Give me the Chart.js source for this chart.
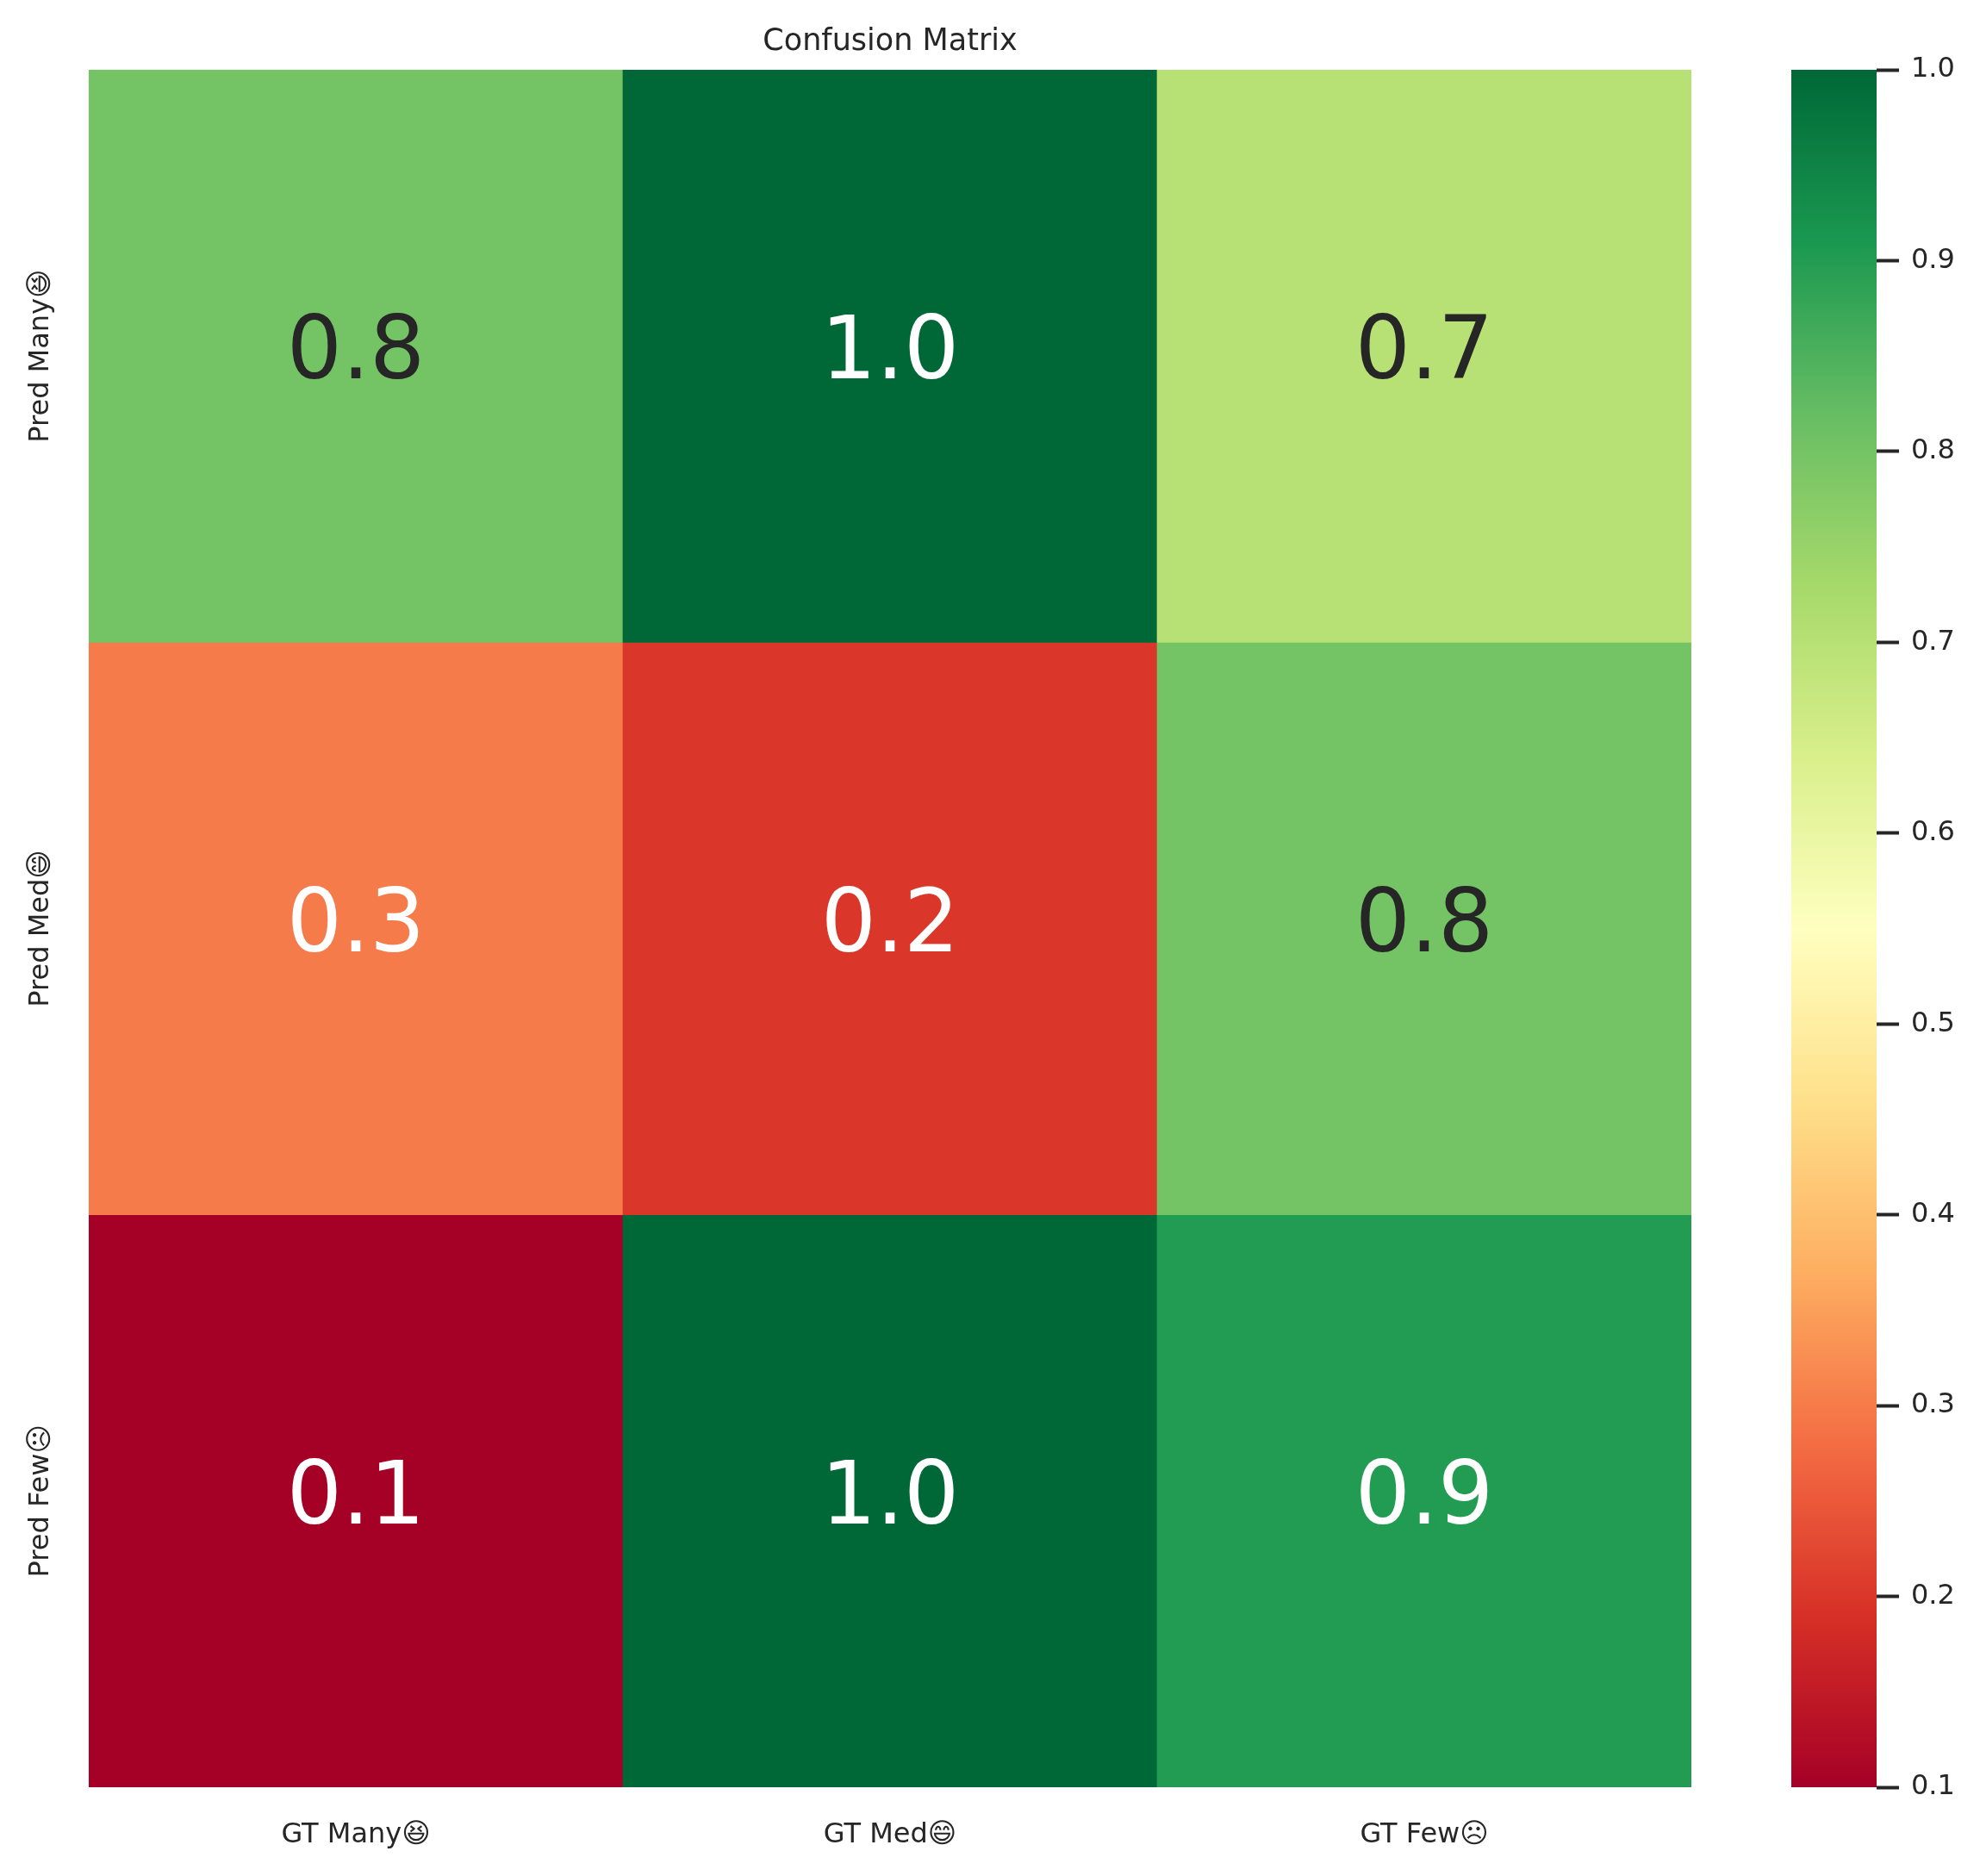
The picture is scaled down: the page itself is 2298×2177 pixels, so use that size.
<!DOCTYPE html>
<html>
<head>
<meta charset="utf-8">
<title>Confusion Matrix</title>
<script src="https://cdn.jsdelivr.net/npm/chart.js@4.4.1/dist/chart.umd.min.js"></script>
<style>
  html, body { margin: 0; padding: 0; background: #fff; }
  #wrap { position: relative; width: 2298px; height: 2177px; }
  #heat { position: absolute; left: 0; top: 0; }
  #cbar { position: absolute; left: 2070px; top: 0; }
</style>
</head>
<body>
<div id="wrap">
  <canvas id="heat" width="2000" height="2177"></canvas>
  <canvas id="cbar" width="228" height="2177"></canvas>
</div>
<script>
/* ----------------------------------------------------------
   Data
   ---------------------------------------------------------- */
const COL_LABELS = ['GT Many😆', 'GT Med😄', 'GT Few☹'];
const ROW_LABELS = ['Pred Many😆', 'Pred Med😄', 'Pred Few☹'];

const ROW_PRED_MANY = [0.8, 1.0, 0.7];
const ROW_PRED_MED  = [0.3, 0.2, 0.8];
const ROW_PRED_FEW  = [0.1, 1.0, 0.9];
const MATRIX = [ROW_PRED_MANY, ROW_PRED_MED, ROW_PRED_FEW];

const VMIN = 0.1;
const VMAX = 1.0;
const CB_TICKS = [0.1, 0.2, 0.3, 0.4, 0.5, 0.6, 0.7, 0.8, 0.9, 1.0];

/* ----------------------------------------------------------
   Colormap (RdYlGn) + text colour
   ---------------------------------------------------------- */
const RDYLGN = ['#a50026', '#d73027', '#f46d43', '#fdae61', '#fee08b', '#ffffbf',
                '#d9ef8b', '#a6d96a', '#66bd63', '#1a9850', '#006837'];

function hexToRgb(h) {
  return [parseInt(h.slice(1, 3), 16), parseInt(h.slice(3, 5), 16), parseInt(h.slice(5, 7), 16)];
}

function cmapRgb(v) {
  let t = (v - VMIN) / (VMAX - VMIN);
  t = Math.max(0, Math.min(1, t));
  const pos = t * (RDYLGN.length - 1);
  const i = Math.min(Math.floor(pos), RDYLGN.length - 2);
  const f = pos - i;
  const a = hexToRgb(RDYLGN[i]), b = hexToRgb(RDYLGN[i + 1]);
  return a.map((c, k) => Math.round(c + (b[k] - c) * f));
}

function cmap(v) {
  const [r, g, b] = cmapRgb(v);
  return `rgb(${r},${g},${b})`;
}

// seaborn picks dark text on light cells
function textColor(v) {
  const lin = cmapRgb(v).map(c => {
    c /= 255;
    return c <= 0.03928 ? c / 12.92 : Math.pow((c + 0.055) / 1.055, 2.4);
  });
  const lum = 0.2126 * lin[0] + 0.7152 * lin[1] + 0.0722 * lin[2];
  return lum > 0.408 ? '#262626' : '#ffffff';
}

const FONT = "'DejaVu Sans', 'Noto Sans', sans-serif";
const INK = '#262626';

/* ----------------------------------------------------------
   Heatmap
   ---------------------------------------------------------- */
const annotations = {
  id: 'annotations',
  afterDatasetsDraw(chart) {
    const { ctx, scales: { x, y } } = chart;
    ctx.save();
    ctx.textAlign = 'center';
    ctx.textBaseline = 'middle';
    ctx.font = `101px ${FONT}`;
    MATRIX.forEach((row, r) => {
      row.forEach((v, c) => {
        ctx.fillStyle = textColor(v);
        ctx.fillText(v.toFixed(1), x.getPixelForValue(c), y.getPixelForValue(r + 0.5));
      });
    });
    // row labels, rotated
    ctx.font = `32px ${FONT}`;
    ctx.fillStyle = INK;
    ctx.textBaseline = 'alphabetic';
    ROW_LABELS.forEach((lbl, r) => {
      ctx.save();
      ctx.translate(56, y.getPixelForValue(r + 0.5));
      ctx.rotate(-Math.PI / 2);
      ctx.fillText(lbl, 0, 0);
      ctx.restore();
    });
    ctx.restore();
  },
};

new Chart(document.getElementById('heat'), {
  type: 'bar',
  data: {
    labels: COL_LABELS,
    datasets: MATRIX.map((row, r) => ({
      label: ROW_LABELS[r],
      data: row.map(() => [r, r + 1]),
      backgroundColor: row.map(cmap),
      borderWidth: 0,
      grouped: false,
      barPercentage: 1,
      categoryPercentage: 1,
    })),
  },
  options: {
    responsive: false,
    devicePixelRatio: 1,
    animation: false,
    layout: { padding: { left: 0, right: 37, top: 0, bottom: 0 } },
    plugins: {
      legend: { display: false },
      tooltip: { enabled: false },
      title: {
        display: true,
        text: 'Confusion Matrix',
        fullSize: false,
        color: INK,
        font: { family: FONT, size: 35, weight: 'normal' },
        padding: { top: 28, bottom: 11 },
      },
    },
    scales: {
      x: {
        grid: { display: false, drawTicks: false },
        border: { display: false },
        ticks: { color: INK, font: { family: FONT, size: 32 }, padding: 36, maxRotation: 0 },
        afterFit: (s) => { s.height = 103; },
      },
      y: {
        min: 0,
        max: 3,
        reverse: true,
        grid: { display: false, drawTicks: false },
        border: { display: false },
        ticks: { display: false },
        afterFit: (s) => { s.width = 103; },
      },
    },
  },
  plugins: [annotations],
});

/* ----------------------------------------------------------
   Colour bar
   ---------------------------------------------------------- */
new Chart(document.getElementById('cbar'), {
  type: 'bar',
  data: {
    labels: ['cb'],
    datasets: [{
      data: [[VMIN, VMAX]],
      borderWidth: 0,
      barPercentage: 1,
      categoryPercentage: 1,
      backgroundColor: (ctx) => {
        const area = ctx.chart.chartArea;
        if (!area) return RDYLGN[0];
        const g = ctx.chart.ctx.createLinearGradient(0, area.bottom, 0, area.top);
        RDYLGN.forEach((c, i) => g.addColorStop(i / (RDYLGN.length - 1), c));
        return g;
      },
    }],
  },
  options: {
    responsive: false,
    devicePixelRatio: 1,
    animation: false,
    layout: { padding: { left: 9, right: 0, top: 81, bottom: 103 } },
    plugins: { legend: { display: false }, tooltip: { enabled: false } },
    scales: {
      x: { display: false },
      y: {
        position: 'right',
        min: VMIN,
        max: VMAX,
        afterBuildTicks: (s) => { s.ticks = CB_TICKS.map(v => ({ value: v })); },
        grid: { drawOnChartArea: false, tickLength: 26, tickWidth: 4, color: INK },
        border: { display: false },
        ticks: {
          color: INK,
          padding: 14,
          font: { family: FONT, size: 32 },
          callback: (v) => Number(v).toFixed(1),
        },
        afterFit: (s) => { s.width = 120; },
      },
    },
  },
});
</script>
</body>
</html>
